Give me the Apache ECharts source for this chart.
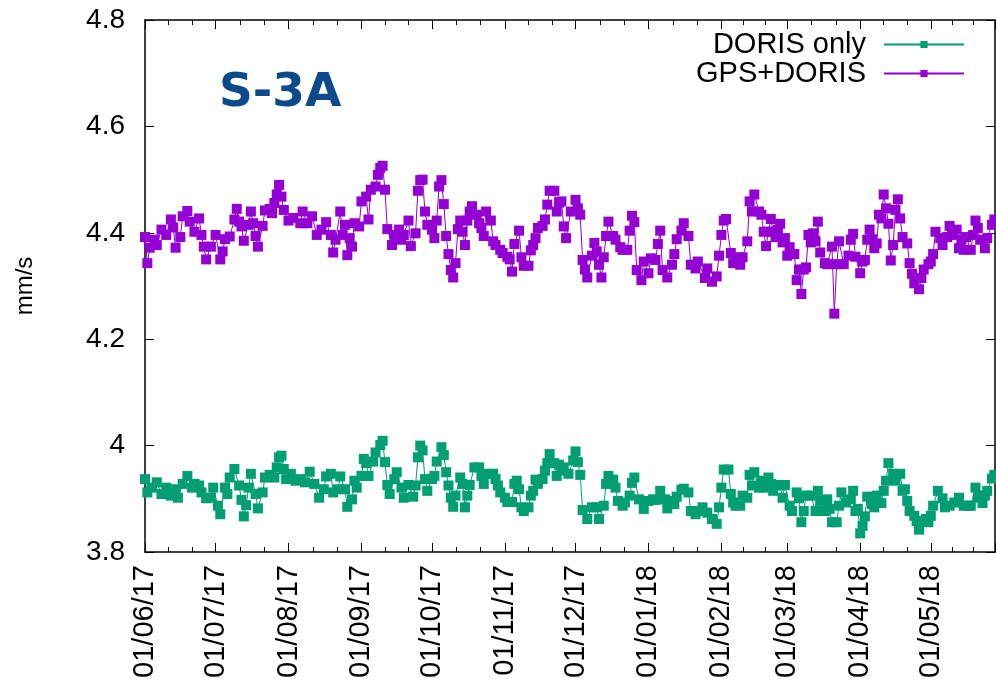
<!DOCTYPE html>
<html>
<head>
<meta charset="utf-8">
<script src="https://cdn.jsdelivr.net/npm/echarts@6/dist/echarts.min.js"></script>
<style>
html,body{margin:0;padding:0;background:#fff;}
#chart{width:996px;height:686px;}
</style>
</head>
<body>
<div id="chart"></div>
<script>
// Days counted from 01/06/2017
const gpsDorisDays = [0,1,2,4,5,7,9,11,12,13,15,16,18,19,21,23,24,25,26,28,30,32,33,34,36,38,39,40,41,42,44,45,46,47,48,50,51,53,54,55,56,57,58,59,61,63,66,67,69,71,73,75,77,79,80,81,83,84,85,86,87,88,89,91,92,94,95,96,98,99,100,101,102,103,105,106,108,109,110,112,113,115,116,117,118,119,120,122,123,124,125,126,127,128,129,130,131,132,133,134,135,136,137,138,139,141,142,143,144,145,147,148,149,151,152,154,155,156,157,159,160,161,163,164,165,166,167,169,170,171,172,174,175,176,177,178,179,181,183,184,185,186,187,188,190,191,192,193,194,195,196,197,199,200,202,203,205,206,207,208,209,211,212,214,215,217,218,219,220,222,224,225,226,228,229,231,232,234,235,238,239,241,243,244,245,246,247,249,250,252,253,254,256,257,258,259,261,262,263,264,265,266,267,268,269,270,271,272,273,274,276,277,278,279,280,281,282,283,284,285,286,287,289,290,292,293,294,295,297,299,300,301,302,304,305,306,307,308,309,310,311,312,313,314,315,316,317,318,319,320,321,322,324,325,326,327,329,330,331,333,334,335,336,338,339,341,342,343,345,346,347,348,349,351,352,353,354,355,357,358,360,361];
const gpsDorisValues = [4.392,4.343,4.372,4.387,4.377,4.406,4.396,4.425,4.410,4.372,4.392,4.431,4.441,4.421,4.402,4.427,4.396,4.374,4.350,4.374,4.396,4.350,4.365,4.388,4.393,4.425,4.445,4.421,4.412,4.385,4.415,4.440,4.418,4.394,4.374,4.413,4.442,4.445,4.437,4.456,4.472,4.490,4.468,4.443,4.423,4.428,4.418,4.440,4.418,4.431,4.396,4.406,4.420,4.396,4.363,4.387,4.440,4.396,4.415,4.358,4.390,4.374,4.418,4.412,4.459,4.468,4.425,4.481,4.487,4.509,4.522,4.526,4.481,4.407,4.377,4.396,4.406,4.387,4.396,4.423,4.375,4.399,4.479,4.499,4.500,4.440,4.415,4.406,4.390,4.423,4.487,4.499,4.454,4.394,4.360,4.330,4.316,4.343,4.407,4.423,4.402,4.377,4.423,4.440,4.450,4.434,4.418,4.409,4.394,4.440,4.423,4.384,4.377,4.368,4.362,4.355,4.350,4.327,4.379,4.404,4.354,4.338,4.338,4.367,4.377,4.390,4.409,4.413,4.425,4.453,4.479,4.479,4.440,4.457,4.459,4.412,4.390,4.440,4.462,4.446,4.434,4.349,4.331,4.316,4.357,4.381,4.365,4.340,4.316,4.354,4.394,4.421,4.394,4.387,4.373,4.368,4.368,4.404,4.432,4.420,4.330,4.311,4.346,4.324,4.352,4.349,4.379,4.404,4.330,4.316,4.340,4.360,4.388,4.404,4.418,4.394,4.340,4.333,4.346,4.315,4.333,4.308,4.318,4.357,4.396,4.423,4.426,4.362,4.343,4.354,4.340,4.354,4.384,4.459,4.440,4.472,4.440,4.434,4.402,4.375,4.402,4.426,4.402,4.392,4.406,4.417,4.382,4.390,4.357,4.373,4.360,4.311,4.331,4.285,4.331,4.335,4.396,4.382,4.399,4.384,4.421,4.363,4.343,4.341,4.374,4.248,4.341,4.384,4.341,4.357,4.387,4.398,4.355,4.324,4.346,4.349,4.387,4.406,4.388,4.371,4.380,4.434,4.427,4.472,4.446,4.417,4.348,4.377,4.443,4.463,4.427,4.392,4.380,4.343,4.323,4.305,4.294,4.315,4.331,4.341,4.346,4.360,4.402,4.390,4.377,4.392,4.413,4.396,4.406,4.371,4.387,4.368,4.392,4.368,4.396,4.423,4.409,4.387,4.371,4.390,4.415,4.425];

const dorisOnlyDays = [0,1,3,5,7,9,11,13,14,16,18,20,21,23,24,26,28,29,31,32,34,35,36,38,40,41,42,43,44,45,47,48,50,51,53,55,56,57,58,59,60,62,64,66,68,70,72,74,76,77,79,80,82,83,85,86,88,89,90,92,93,94,95,97,98,100,101,102,103,104,106,107,109,110,112,114,115,116,117,118,119,120,122,123,124,126,127,128,129,130,131,132,134,135,136,137,138,140,142,143,144,146,148,149,150,151,153,154,156,157,158,159,160,161,163,164,165,166,167,169,170,171,172,174,175,176,177,178,180,182,183,184,185,186,188,190,192,193,195,196,197,199,200,201,203,204,206,207,208,210,212,214,216,217,219,221,222,224,225,226,228,229,231,232,234,235,237,239,241,243,244,245,246,248,249,250,251,253,254,256,257,258,259,261,262,263,265,266,267,269,270,271,272,274,275,277,278,279,280,281,283,285,286,287,289,290,291,292,294,295,296,298,300,301,302,303,304,305,306,307,309,310,311,313,314,315,316,318,319,321,322,323,324,325,327,328,329,330,332,333,334,335,337,339,340,342,344,346,348,350,351,353,354,355,356,357,358,360,361];
const dorisOnlyValues = [3.937,3.912,3.921,3.931,3.909,3.921,3.906,3.918,3.902,3.928,3.943,3.921,3.928,3.925,3.912,3.901,3.902,3.921,3.887,3.871,3.921,3.909,3.940,3.956,3.925,3.898,3.867,3.888,3.921,3.947,3.909,3.882,3.912,3.940,3.945,3.940,3.959,3.978,3.981,3.956,3.937,3.947,3.934,3.937,3.931,3.951,3.928,3.902,3.918,3.942,3.947,3.912,3.918,3.942,3.918,3.885,3.899,3.934,3.921,3.943,3.975,3.967,3.943,3.970,3.987,4.001,4.009,3.969,3.926,3.909,3.937,3.950,3.921,3.902,3.926,3.904,3.925,3.978,4.000,3.991,3.937,3.915,3.937,3.943,3.970,3.997,3.982,3.950,3.925,3.902,3.885,3.906,3.940,3.928,3.884,3.906,3.926,3.959,3.959,3.943,3.928,3.947,3.947,3.937,3.925,3.912,3.902,3.894,3.894,3.928,3.934,3.918,3.884,3.877,3.884,3.906,3.915,3.936,3.928,3.937,3.953,3.967,3.984,3.967,3.943,3.964,3.953,3.959,3.947,3.972,3.989,3.969,3.945,3.879,3.862,3.884,3.884,3.862,3.887,3.928,3.943,3.936,3.921,3.896,3.887,3.893,3.906,3.930,3.940,3.899,3.881,3.896,3.899,3.898,3.915,3.899,3.882,3.896,3.890,3.904,3.917,3.919,3.912,3.877,3.871,3.877,3.884,3.874,3.862,3.853,3.884,3.921,3.955,3.955,3.909,3.893,3.887,3.887,3.906,3.902,3.945,3.925,3.950,3.921,3.934,3.921,3.940,3.928,3.915,3.926,3.925,3.902,3.926,3.887,3.877,3.912,3.901,3.856,3.877,3.906,3.906,3.877,3.915,3.896,3.877,3.899,3.881,3.856,3.856,3.887,3.912,3.893,3.899,3.915,3.877,3.881,3.835,3.849,3.867,3.904,3.890,3.884,3.906,3.892,3.915,3.934,3.967,3.947,3.934,3.947,3.915,3.918,3.896,3.877,3.868,3.858,3.842,3.858,3.862,3.856,3.868,3.887,3.915,3.901,3.884,3.887,3.893,3.902,3.887,3.887,3.887,3.921,3.902,3.906,3.892,3.906,3.915,3.938,3.945];

const seriesNames = ['DORIS only', 'GPS+DORIS'];
const seriesColors = ['#009e73', '#9400d3'];
const chartTitle = 'S-3A';
const yAxisName = 'mm/s';
const yMin = 3.8, yMax = 4.8, yStep = 0.2;
const xStart = [2017, 5, 1];
const xSpanDays = 361.3;

const dayToTime = d => new Date(xStart[0], xStart[1], xStart[2] + d).getTime();
const xMin = dayToTime(0);
const xMax = xMin + xSpanDays * 86400000;
const pad = n => (n < 10 ? '0' : '') + n;
const fmtDate = v => { const d = new Date(v); return pad(d.getDate()) + '/' + pad(d.getMonth() + 1) + '/' + String(d.getFullYear()).slice(2); };

const mk = (days, vals) => days.map((d, i) => [dayToTime(d), vals[i]]);

const font = 'Liberation Sans';
const chart = echarts.init(document.getElementById('chart'), null, {renderer: 'canvas'});

const xCommon = {
  type: 'time', min: xMin, max: xMax,
  minInterval: 28 * 86400000, maxInterval: 31 * 86400000, splitNumber: 12,
  axisLine: {show: true, onZero: false, lineStyle: {color: '#000', width: 1.5}},
  axisTick: {show: true, inside: true, length: 9, lineStyle: {color: '#000', width: 1}},
  minorTick: {show: true, splitNumber: 3, length: 5, lineStyle: {color: '#000', width: 1}},
  splitLine: {show: false}
};
const yCommon = {
  type: 'value', min: yMin, max: yMax, interval: yStep,
  axisLine: {show: true, lineStyle: {color: '#000', width: 1.5}},
  axisTick: {show: true, inside: true, length: 9, lineStyle: {color: '#000', width: 1}},
  splitLine: {show: false}
};

chart.setOption({
  animation: false,
  backgroundColor: '#fff',
  title: {
    text: chartTitle, left: 214, top: 65,
    textStyle: {fontFamily: 'DejaVu Sans', fontWeight: 'bold', fontSize: 47, color: '#0b4a8b'}
  },
  legend: {
    data: seriesNames, orient: 'vertical', align: 'right', right: 26, top: 25,
    itemWidth: 80, itemHeight: 9, itemGap: 0,
    textStyle: {fontFamily: font, fontSize: 29, color: '#000', padding: [0, 13, 0, 0]}
  },
  grid: {left: 145, right: 1, top: 20, bottom: 134, containLabel: false},
  xAxis: [
    Object.assign({}, xCommon, {
      position: 'bottom',
      axisLabel: {rotate: 90, margin: 13, fontFamily: font, fontSize: 29, color: '#000', formatter: fmtDate, hideOverlap: false}
    }),
    Object.assign({}, xCommon, {position: 'top', axisLabel: {show: false}})
  ],
  yAxis: [
    Object.assign({}, yCommon, {
      position: 'left', name: yAxisName, nameLocation: 'middle', nameGap: 108, nameRotate: 90,
      nameTextStyle: {fontFamily: font, fontSize: 24, color: '#000'},
      axisLabel: {margin: 20, fontFamily: font, fontSize: 28, color: '#000',
        formatter: v => String(+v.toFixed(1))}
    }),
    Object.assign({}, yCommon, {position: 'right', axisLabel: {show: false}})
  ],
  series: [
    {
      name: seriesNames[0], type: 'line', xAxisIndex: 0, yAxisIndex: 0,
      data: mk(dorisOnlyDays, dorisOnlyValues),
      symbol: 'rect', symbolSize: 10, showAllSymbol: true,
      itemStyle: {color: seriesColors[0]}, lineStyle: {color: seriesColors[0], width: 1}
    },
    {
      name: seriesNames[1], type: 'line', xAxisIndex: 0, yAxisIndex: 0,
      data: mk(gpsDorisDays, gpsDorisValues),
      symbol: 'rect', symbolSize: 10, showAllSymbol: true,
      itemStyle: {color: seriesColors[1]}, lineStyle: {color: seriesColors[1], width: 1}
    }
  ]
});
</script>
</body>
</html>
